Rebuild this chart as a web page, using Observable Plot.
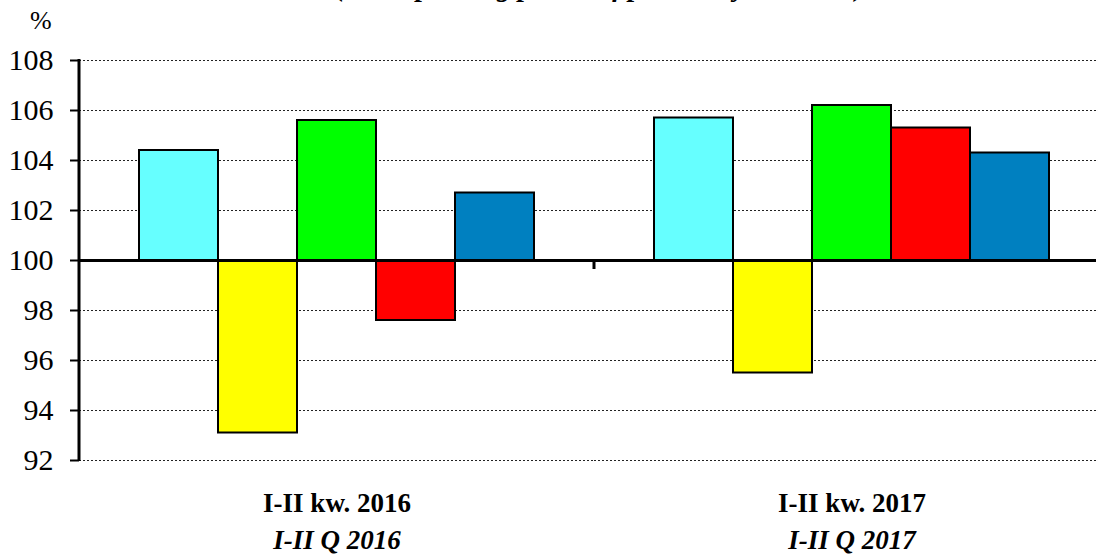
<!DOCTYPE html>
<html>
<head>
<meta charset="utf-8">
<script src="https://cdn.jsdelivr.net/npm/d3@7"></script>
<script src="https://cdn.jsdelivr.net/npm/@observablehq/plot@0.6"></script>
<style>
  html, body { margin: 0; padding: 0; background: #fff; }
  #wrap { position: relative; width: 1096px; height: 556px; overflow: hidden; font-family: "Liberation Serif", "Times New Roman", serif; }
  #title { position: absolute; left: 0; width: 1200px; top: -29px; line-height: 1.107; text-align: center; font-size: 28px; font-weight: bold; font-style: italic; white-space: nowrap; }
  #unit { position: absolute; left: 30px; top: 7px; line-height: 1.107; font-size: 26px; }
  #chart { position: absolute; left: 0; top: 0; }
</style>
</head>
<body>
<div id="wrap">
  <div id="chart"></div>
  <div id="title">(corresponding period of previous year = 100)</div>
  <div id="unit">%</div>
</div>
<script>
// ---- data ----
const groupsPl = ["I-II kw. 2016", "I-II kw. 2017"];
const groupsEn = ["I-II Q 2016", "I-II Q 2017"];
const seriesKeys = ["s1", "s2", "s3", "s4", "s5"];
const seriesColors = ["#66FFFF", "#FFFF00", "#00FF00", "#FF0000", "#0080C0"];
const values2016 = [104.4, 93.1, 105.6, 97.6, 102.7];
const values2017 = [105.7, 95.5, 106.2, 105.3, 104.3];
const yTicks = [92, 94, 96, 98, 100, 102, 104, 106, 108];
const baseline = 100;

const valuesByGroup = [values2016, values2017];
const data = groupsPl.flatMap((g, i) =>
  seriesKeys.map((s, j) => ({group: g, series: s, value: valuesByGroup[i][j]})));
const labels = groupsPl.map((g, i) => ({group: g, pl: g, en: groupsEn[i]}));

const font = "Liberation Serif";
const chart = Plot.plot({
  width: 1096,
  height: 556,
  marginLeft: 79,
  marginRight: 0,
  marginTop: 60,
  marginBottom: 96,
  style: {fontFamily: font, color: "#000", background: "transparent", overflow: "visible"},
  fx: {domain: groupsPl, padding: 0, range: [79, 1109], axis: null, label: null},
  x: {domain: seriesKeys, paddingInner: 0, paddingOuter: 0.743, axis: null},
  y: {domain: [92, 108], axis: null},
  color: {domain: seriesKeys, range: seriesColors},
  marks: [
    Plot.ruleY(yTicks.filter(d => d !== baseline), {stroke: "#222", strokeWidth: 1, strokeDasharray: "2,2"}),
    Plot.barY(data, {fx: "group", x: "series", y1: baseline, y2: "value", fill: "series", stroke: "#000", strokeWidth: 2, inset: 0}),
    Plot.ruleY([baseline], {stroke: "#000", strokeWidth: 3}),
    Plot.axisY({ticks: yTicks, tickSize: 9, tickPadding: 17, fontSize: 30, stroke: "#000", strokeWidth: 2, label: null, tickFormat: d => String(d)}),
    Plot.text(labels, {fx: "group", text: "pl", frameAnchor: "bottom", dy: 51, fontSize: 27, fontWeight: "bold", fill: "#000"}),
    Plot.text(labels, {fx: "group", text: "en", frameAnchor: "bottom", dy: 88, fontSize: 27, fontWeight: "bold", fontStyle: "italic", fill: "#000"})
  ]
});
document.getElementById("chart").appendChild(chart);

// axis line and category separator tick, placed from the chart's scales
const fxS = chart.scale("fx"), yS = chart.scale("y");
const svg = d3.select(chart.tagName.toLowerCase() === "svg" ? chart : chart.querySelector("svg"));
const left = fxS.apply(groupsPl[0]);
svg.append("line")
  .attr("x1", left).attr("x2", left)
  .attr("y1", yS.apply(yTicks[0]) + 1).attr("y2", yS.apply(yTicks[yTicks.length - 1]) - 1)
  .attr("stroke", "#000").attr("stroke-width", 3);
const mid = fxS.apply(groupsPl[1]);
svg.append("line")
  .attr("x1", mid).attr("x2", mid)
  .attr("y1", yS.apply(baseline)).attr("y2", yS.apply(baseline) + 9)
  .attr("stroke", "#000").attr("stroke-width", 3);
</script>
</body>
</html>
